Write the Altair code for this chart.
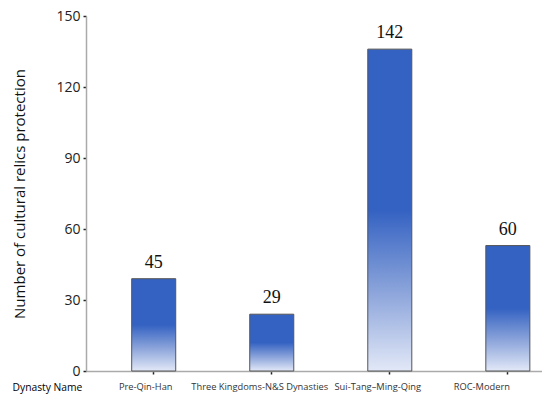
import altair as alt
import pandas as pd

categories = ["Pre-Qin-Han", "Three Kingdoms-N&S Dynasties", "Sui-Tang–Ming-Qing", "ROC-Modern"]
heights = [39, 24, 136, 53]
labels = ["45", "29", "142", "60"]
y_ticks = [0, 30, 60, 90, 120, 150]

df = pd.DataFrame({"dynasty": categories, "count": heights, "label": labels})

gradient = alt.Gradient(
    gradient="linear",
    x1=0, x2=0, y1=0, y2=1,
    stops=[
        alt.GradientStop(color="#3462C2", offset=0),
        alt.GradientStop(color="#3462C2", offset=0.5),
        alt.GradientStop(color="#8AA3DA", offset=0.75),
        alt.GradientStop(color="#E2E8F7", offset=1),
    ],
)

x_enc = alt.X(
    "dynasty:N",
    sort=categories,
    title="Dynasty Name",
    scale=alt.Scale(paddingInner=0.627, paddingOuter=0.245, align=0.79),
    axis=alt.Axis(
        labelAngle=0,
        labelFont="Open Sans",
        labelFontSize=9.3,
        labelColor="#333333",
        labelPadding=8,
        labelOffset=alt.ExprRef(
            "datum.value == 'Pre-Qin-Han' ? -8 : datum.value == 'ROC-Modern' ? -26 : -12"
        ),
        tickSize=3,
        tickColor="#222222",
        tickWidth=1.5,
        domainColor="#AAAAAA",
        domainWidth=1.5,
        titleFont="Open Sans",
        titleFontSize=10.3,
        titleFontWeight="normal",
        titleColor="#000000",
        titleX=-74,
        titleY=16,
        titleAlign="left",
        titleBaseline="middle",
    ),
)

y_enc = alt.Y(
    "count:Q",
    title="Number of cultural relics protection",
    scale=alt.Scale(domain=[0, 150], nice=False),
    axis=alt.Axis(
        values=y_ticks,
        grid=False,
        labelFont="Open Sans",
        labelFontSize=14,
        labelColor="#222222",
        labelPadding=3,
        tickSize=3,
        tickColor="#222222",
        tickWidth=1.5,
        domainColor="#AAAAAA",
        domainWidth=1.5,
        titleFont="Open Sans",
        titleFontSize=15,
        titleFontWeight="normal",
        titleColor="#111111",
        titleX=-67,
        titleBaseline="middle",
    ),
)

bars = alt.Chart(df).mark_bar(
    color=gradient, stroke="#555555", strokeWidth=1
).encode(x=x_enc, y=y_enc)

text = alt.Chart(df).mark_text(
    font="Liberation Serif", fontSize=18, baseline="middle", dy=-16, color="#111111"
).encode(x=alt.X("dynasty:N", sort=categories), y=alt.Y("count:Q"), text="label:N")

chart = alt.layer(bars, text).properties(
    width=456,
    height=355,
    padding={"left": 78, "top": 8, "right": 0, "bottom": 31},
    autosize=alt.AutoSizeParams(type="none"),
).configure_view(stroke=None)

chart.save("out.html", embed_options={"renderer": "svg", "actions": False})
